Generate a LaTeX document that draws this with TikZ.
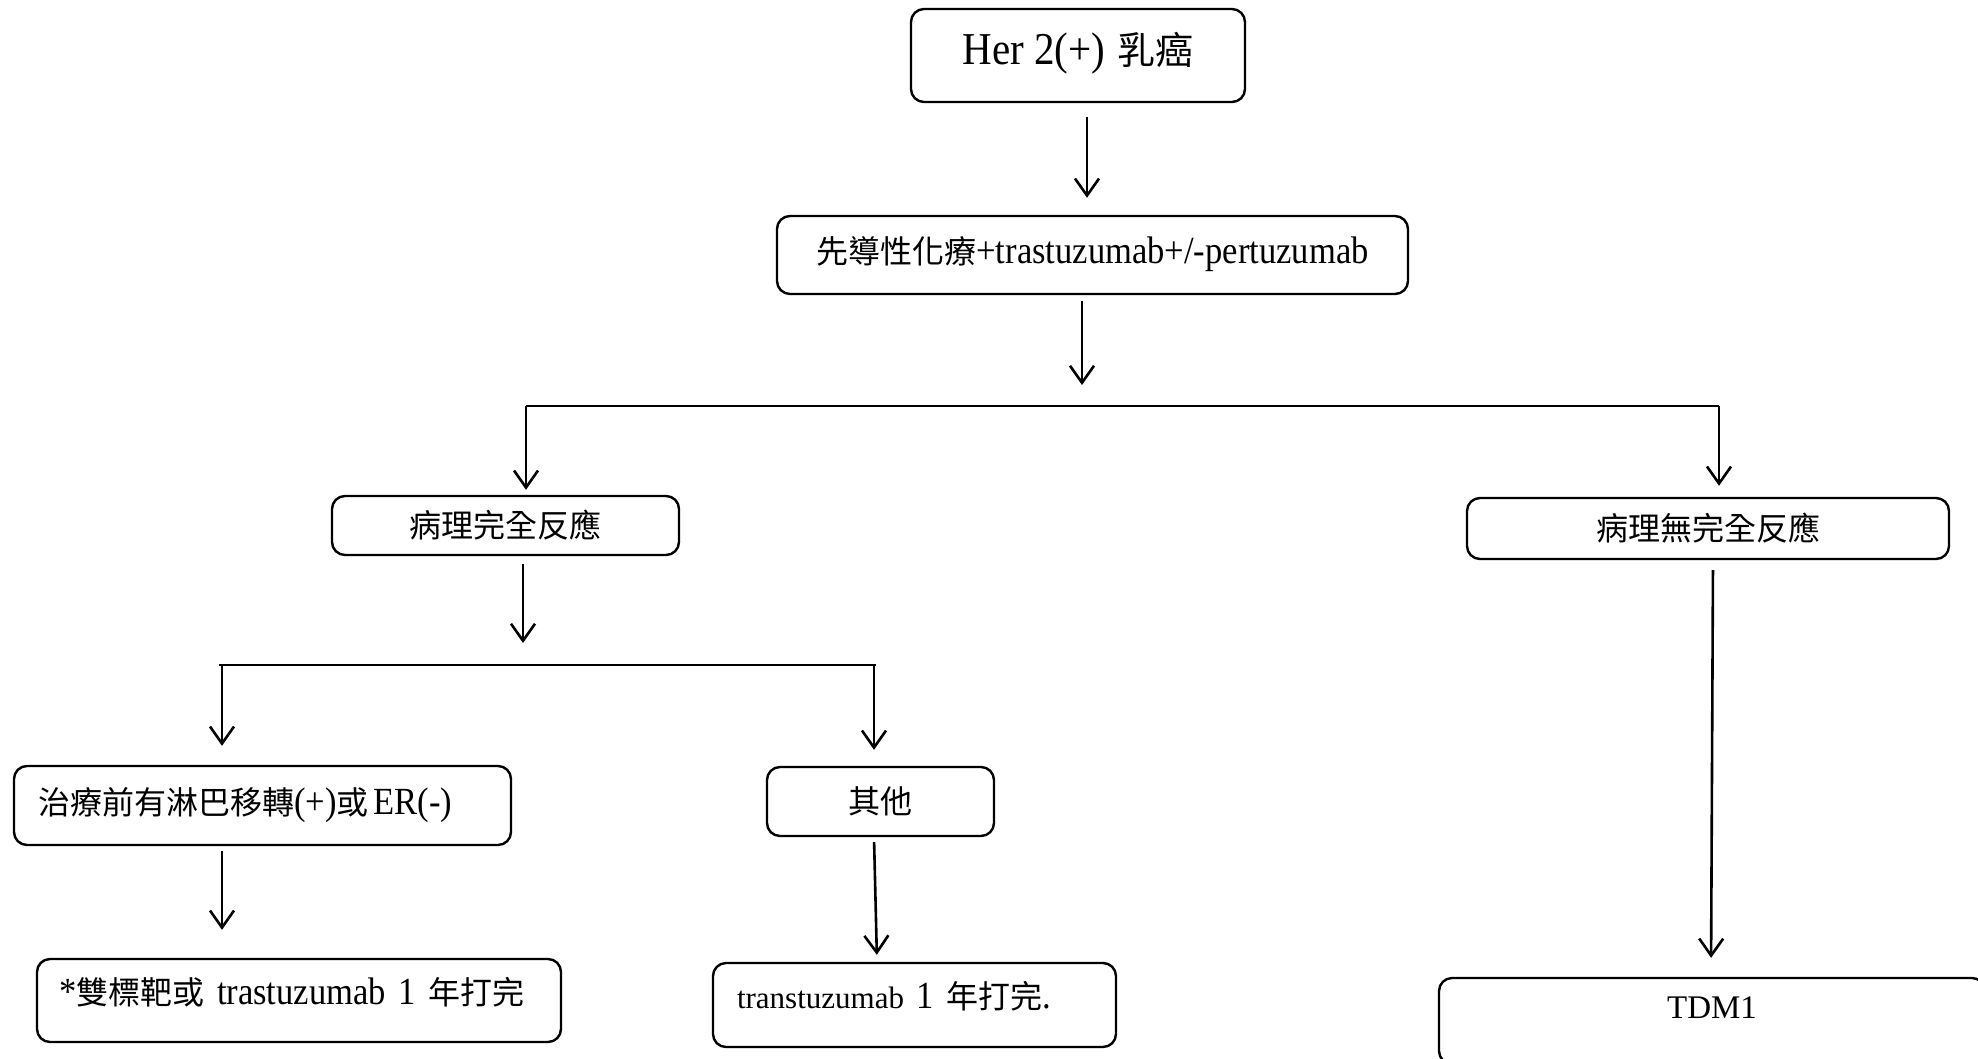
\documentclass[tikz,border=0pt]{standalone}
\usepackage{fontspec}
\setmainfont[Scale=1.2,FakeStretch=0.9]{Liberation Serif}
\newfontfamily\cjk{Noto Sans CJK TC}
\newfontfamily\tnr{Liberation Serif}
\usetikzlibrary{arrows.meta}
\begin{document}
\begin{tikzpicture}[x=1pt,y=-1pt,
  every node/.style={font=\fontsize{32}{38}\selectfont},
  box/.style={draw=black, line width=2.4pt, rounded corners=13pt, inner sep=0pt, align=center},
  lbox/.style={box, inner xsep=24pt, align=left},
  ln/.style={line width=2.6pt},
  arr/.style={line width=2.6pt, -{Straight Barb[length=17pt,width=24pt,line width=2.6pt]}}]
\useasboundingbox (0,0) rectangle (1978,1058);
\clip (0,0) rectangle (1978,1058);

% boxes
\node[box, minimum width=334pt, minimum height=93pt, text depth=15pt, font=\fontsize{38}{44}\selectfont] (her2) at (1078,55.5) {Her 2(+)\kern12pt{\cjk 乳癌}};
\node[box, minimum width=631pt, minimum height=78pt, text depth=10pt] (neo) at (1092.5,255) {{\cjk 先導性化療}+trastuzumab+/-pertuzumab};
\node[box, minimum width=347pt, minimum height=59pt] (pcr) at (505.5,525.5) {\cjk 病理完全反應};
\node[box, minimum width=482pt, minimum height=61pt] (npcr) at (1708,528.5) {\cjk 病理無完全反應};
\node[lbox, minimum height=79pt, text width=449pt] (lymph) at (262.5,805.5) {\mbox{{\cjk 治療前有淋巴移轉}(+){\cjk 或}\kern5pt ER(-)}};
\node[lbox, minimum height=83pt, text width=480pt, inner xsep=22pt, text depth=20pt] (dual) at (299,1000.5) {\mbox{*{\cjk 雙標靶或} trastuzumab 1 {\cjk 年打完}}};
\node[box, minimum width=227pt, minimum height=69pt] (other) at (880.5,801.5) {\cjk 其他};
\node[lbox, minimum height=84pt, text width=355pt, text depth=20pt] (trans) at (914.5,1005) {\mbox{{\tnr\fontsize{31}{38}\selectfont transtuzumab} 1 {\cjk 年打完}.}};
\node[box, minimum width=546pt, minimum height=86pt, text depth=27pt] (tdm1) at (1712,1021) {\tnr\fontsize{33}{38}\selectfont TDM1};

% branch points
\coordinate (h1l) at (526,406);
\coordinate (h1r) at (1719,406);
\coordinate (h1m) at (1082,406);
\coordinate (h2l) at (219,665);
\coordinate (h2r) at (876,665);
\coordinate (h2a) at (222,665);
\coordinate (h2b) at (874,665);
\coordinate (h2m) at (523,665);

% connectors
\draw[arr, shorten <=14pt, shorten >=17pt] (her2.south -| 1087,0) -- (neo.north -| 1087,0);
\draw[arr, shorten <=6pt, shorten >=21pt] (neo.south -| h1m) -- (h1m);
\draw[ln] (h1l) -- (h1r);
\draw[arr, shorten >=5pt] (h1l) -- (pcr.north -| h1l);
\draw[arr, shorten >=11pt] (h1r) -- (npcr.north -| h1r);
\draw[arr, shorten <=8pt, shorten >=22pt] (pcr.south -| h2m) -- (h2m);
\draw[ln] (h2l) -- (h2r);
\draw[arr, shorten >=19pt] (h2a) -- (lymph.north -| h2a);
\draw[arr, shorten >=16pt] (h2b) -- (other.north -| h2b);
\draw[arr, shorten <=5pt, shorten >=28pt] (lymph.south -| h2a) -- (dual.north -| h2a);
\draw[arr, shorten <=5pt, shorten >=7pt] (other.south -| 874,0) -- (trans.north -| 877,0);
\draw[arr, shorten <=10pt, shorten >=19pt] (npcr.south -| 1713,0) -- (tdm1.north -| 1711,0);
\end{tikzpicture}
\end{document}
